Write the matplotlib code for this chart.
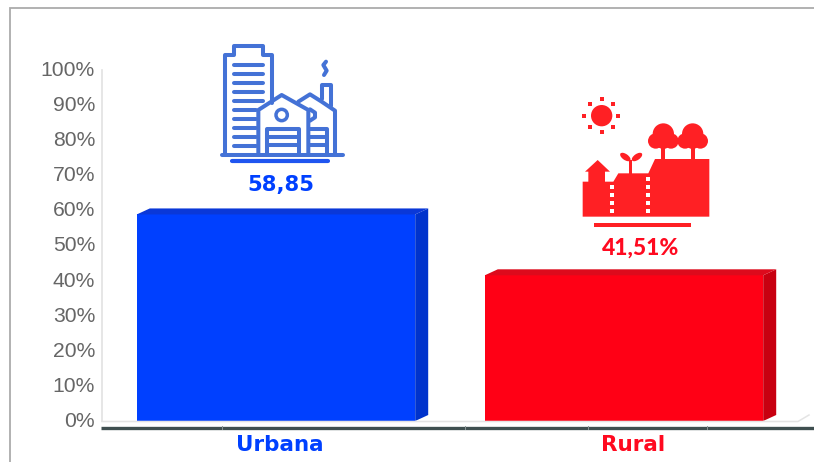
import matplotlib
matplotlib.use("Agg")
import matplotlib.pyplot as plt
from matplotlib.patches import Polygon, Circle, Ellipse, Rectangle
from matplotlib.transforms import ScaledTranslation

categories = ["Urbana", "Rural"]
values = [58.85, 41.51]
value_labels = ["58,85", "41,51%"]
y_ticks = list(range(0, 101, 10))
y_tick_labels = [f"{v}%" for v in y_ticks]
front_colors = ["#0040ff", "#ff0015"]
side_colors = ["#0033cc", "#c80010"]
top_colors = ["#0a38d8", "#dd0a1c"]
text_colors = ["#0040ff", "#ff0a20"]

W, H = 814, 462
fig = plt.figure(figsize=(W / 100, H / 100), dpi=100, facecolor="white")

# main axes: pixel box x 102..798, y 70..421
ax = fig.add_axes([102 / W, 1 - 421 / H, 696 / W, 351 / H])
ax.set_xlim(-0.5, 1.5)
ax.set_ylim(0, 100)
ax.patch.set_alpha(0)
for s in ["top", "right", "bottom"]:
    ax.spines[s].set_visible(False)
ax.spines["left"].set_color("#e2e2e2")
ax.spines["left"].set_linewidth(1.2)
ax.set_yticks(y_ticks, y_tick_labels, fontsize=15.2, color="#666666", family="Liberation Sans")
ax.tick_params(axis="y", length=0, pad=5)
up = ScaledTranslation(0, 1.5 / 100, fig.dpi_scale_trans)
for lab in ax.get_yticklabels():
    lab.set_transform(lab.get_transform() + up)
ax.set_xticks([0.012, 1.026], categories)
ax.tick_params(axis="x", length=0, pad=10)
for lab, c in zip(ax.get_xticklabels(), text_colors):
    lab.set(color=c, fontsize=15.5, fontweight="bold", family="DejaVu Sans")

bar_w = 0.8
dx = 13 / 348
dy = 6 / 3.51
ax.bar(range(2), values, width=bar_w, color=front_colors, zorder=3)
for i, v in enumerate(values):
    l, r = i - bar_w / 2, i + bar_w / 2
    ax.add_patch(Polygon([(r, 0), (r + dx, dy), (r + dx, v + dy), (r, v)], color=side_colors[i], lw=0, zorder=3))
    ax.add_patch(Polygon([(l, v), (l + dx, v + dy), (r + dx, v + dy), (r, v)], color=top_colors[i], lw=0, zorder=3))

# overlay in pixel coordinates
ov = fig.add_axes([0, 0, 1, 1])
ov.set_xlim(0, W)
ov.set_ylim(H, 0)
ov.axis("off")
ov.patch.set_alpha(0)

# frame
ov.plot([10, 10, 814], [462, 8, 8], color="#ababab", lw=1.3, solid_joinstyle="miter")
# floor and baseline
ov.plot([102, 798, 809], [421.5, 421.5, 415], color="#e4e4e4", lw=1.1, zorder=1)
ov.plot([101, 814], [427.5, 427.5], color="#3f4f50", lw=2.4, solid_capstyle="butt")
for x in [222, 465, 588, 707]:
    ov.plot([x, x], [426, 429], color="#8a9696", lw=0.7)

# blue icon
BL = "#4472d6"
def bz(pts):
    return [(200 + x / 3, 30 + y / 3) for x, y in pts]
def bl(pts, lw=2.9, color=BL):
    xs, ys = zip(*bz(pts))
    ov.plot(xs, ys, color=color, lw=lw, solid_capstyle="round", solid_joinstyle="round")
bl([(75, 372), (75, 75), (102, 75), (102, 47), (190, 47), (190, 75), (215, 75), (215, 218)])
for y in [105, 133, 160, 187, 214]:
    bl([(102, y), (190, y)])
for y in [241, 268]:
    bl([(102, y), (168, y)])
for y in [295, 322, 349]:
    bl([(102, y), (168, y)])
bl([(175, 372), (175, 240), (245, 195), (325, 240), (325, 372)])
ov.add_patch(Circle(bz([(245, 255)])[0], 17 / 3, fc="none", ec=BL, lw=2.5))
bl([(200, 372), (200, 297), (298, 297), (298, 372)])
for y in [320, 345]:
    bl([(200, y), (298, y)])
bl([(295, 215), (330, 193), (365, 215), (405, 242), (405, 372)])
bl([(365, 208), (365, 165), (392, 165), (392, 228)])
bl([(330, 238), (345, 248), (345, 262), (330, 272)])
bl([(330, 297), (380, 297), (380, 372)])
for y in [320, 345]:
    bl([(330, y), (380, y)])
bl([(65, 375), (430, 375)])
bl([(378, 95), (370, 105), (380, 122), (372, 135)])
bl([(97, 394), (383, 394)], lw=3, color="#1f55f0")
ov.text(280.5, 184.5, value_labels[0], color=text_colors[0], fontsize=15.3, fontweight="bold",
        family="DejaVu Sans", ha="center", va="center")

# red icon
RD = "#ff2024"
def rz(pts):
    return [(560 + x / 3, 85 + y / 3) for x, y in pts]
cx, cy = rz([(125, 92)])[0]
ov.add_patch(Circle((cx, cy), 32 / 3, color=RD, lw=0))
for (x, y) in [(125, 43), (160, 57), (175, 92), (160, 126), (125, 140), (89, 126), (73, 92), (89, 57)]:
    px, py = rz([(x, y)])[0]
    ov.add_patch(Rectangle((px - 2, py - 2), 4, 4, color=RD, lw=0))
ov.add_patch(Polygon(rz([(68, 395), (68, 290), (85, 290), (85, 260), (75, 260), (113, 225), (150, 260),
                         (135, 260), (135, 290), (160, 290), (175, 265), (265, 265), (285, 222),
                         (448, 222), (448, 395)]), color=RD, lw=0))
for x, ys in [(155, [305, 330, 355, 378]), (264, [282, 307, 330, 355, 378])]:
    for y in ys:
        px, py = rz([(x, y)])[0]
        ov.add_patch(Rectangle((px - 2, py - 2), 4, 4, color="white", lw=0))
for tx in [310, 398]:
    ov.add_patch(Polygon(rz([(tx - 6, 225), (tx - 6, 185), (tx + 6, 185), (tx + 6, 225)]), color=RD, lw=0))
    for ox, oy, r in [(0, 147, 32), (-23, 168, 23), (23, 168, 23), (0, 168, 24)]:
        ov.add_patch(Circle(rz([(tx + ox, oy)])[0], r / 3, color=RD, lw=0))
ov.add_patch(Polygon(rz([(208, 268), (208, 225), (216, 225), (216, 268)]), color=RD, lw=0))
ov.add_patch(Ellipse(rz([(196, 216)])[0], 12, 6, angle=35, color=RD, lw=0))
ov.add_patch(Ellipse(rz([(231, 216)])[0], 12, 6, angle=-35, color=RD, lw=0))
ov.add_patch(Rectangle(rz([(103, 414)])[0], 289 / 3, 4, color=RD, lw=0))
ov.text(641, 248.5, value_labels[1], color=text_colors[1], fontsize=16.5, fontweight="black",
        family="Lato", ha="center", va="center")

fig.savefig("out.png", dpi=100, facecolor="white")
